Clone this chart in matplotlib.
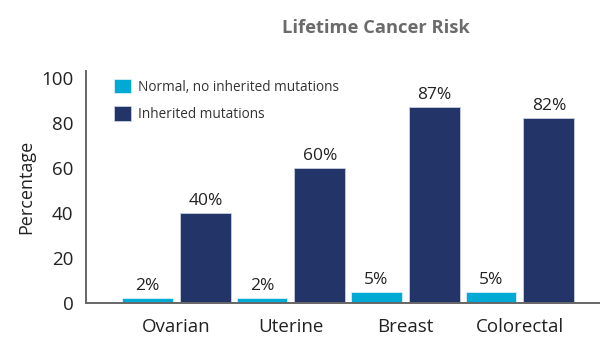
import matplotlib
matplotlib.use('Agg')
import matplotlib.pyplot as plt
import numpy as np

categories = ['Ovarian', 'Uterine', 'Breast', 'Colorectal']
normal_risk = [2, 2, 5, 5]
inherited_risk = [40, 60, 87, 82]
series_names = ['Normal, no inherited mutations', 'Inherited mutations']

light_blue = '#00aad4'
dark_blue = '#233468'
text_col = '#222222'

plt.rcParams['font.family'] = ['Open Sans', 'DejaVu Sans']

fig = plt.figure(figsize=(6.16, 3.57), dpi=100)
ax = fig.add_axes([0.1396, 0.1513, 0.8328, 0.6497])

x = np.arange(len(categories))
w = 0.445
off = 0.253
b1 = ax.bar(x - off, normal_risk, w, color=light_blue, edgecolor='#d8eef6', linewidth=0.6)
b2 = ax.bar(x + off, inherited_risk, w, color=dark_blue, edgecolor='#c9cfe0', linewidth=0.6)

for bars, vals in ((b1, normal_risk), (b2, inherited_risk)):
    for r, v in zip(bars, vals):
        ax.annotate(f'{v}%', (r.get_x() + r.get_width() / 2, r.get_height()),
                    xytext=(0, 3), textcoords='offset points',
                    ha='center', va='bottom', fontsize=12.5, color=text_col)

ax.set_xlim(-0.79, 3.69)
ax.set_ylim(0, 103)
ax.set_xticks(x)
ax.set_xticklabels(categories, fontsize=13.5, color=text_col)
ax.set_yticks([0, 20, 40, 60, 80, 100])
ax.tick_params(axis='y', length=0, pad=9, labelsize=13.5, labelcolor=text_col)
ax.tick_params(axis='x', length=0, pad=11)
ax.set_ylabel('Percentage', fontsize=13, color=text_col, labelpad=4)

for s in ('top', 'right'):
    ax.spines[s].set_visible(False)
for s in ('left', 'bottom'):
    ax.spines[s].set_color('#666666')
    ax.spines[s].set_linewidth(1.4)

leg = ax.legend([b1, b2], series_names, loc='upper left',
                bbox_to_anchor=(0.185, 0.779), bbox_transform=fig.transFigure,
                frameon=False, fontsize=9.8, handlelength=1.25, handleheight=1.25,
                handletextpad=0.5, labelspacing=0.85, borderpad=0, borderaxespad=0)
for t in leg.get_texts():
    t.set_color('#333333')

fig.text(0.61, 0.922, 'Lifetime Cancer Risk', ha='center', va='center',
         fontsize=13.2, fontweight='bold', color='#6b6b6b')

fig.savefig('out.png', dpi=100)
